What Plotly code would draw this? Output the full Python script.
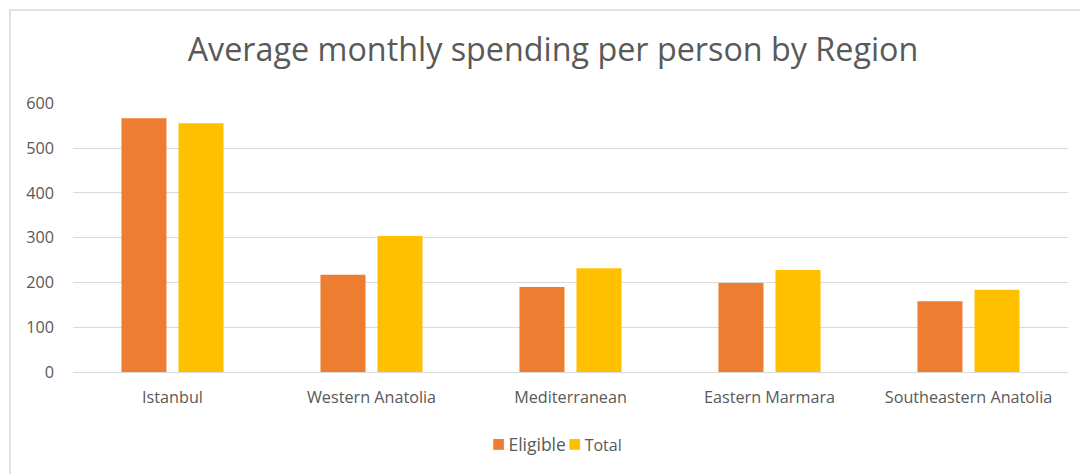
import plotly.graph_objects as go

regions = ["Istanbul", "Western Anatolia", "Mediterranean", "Eastern Marmara", "Southeastern Anatolia"]
eligible = [567, 217, 190, 199, 158]
total = [556, 304, 232, 228, 184]
y_ticks = [0, 100, 200, 300, 400, 500, 600]

# page has an 8px body margin, so the figure is drawn 8px smaller and shifted
OFF = 8
W, H = 1088 - OFF, 474 - OFF
L, R, T, B = 73 - OFF, 20, 103 - OFF, 102
pw = W - L - R
ph = H - T - B

fig = go.Figure()
fig.add_trace(go.Bar(x=regions, y=eligible, name="Eligible", marker=dict(color="#ED7D31", line=dict(width=0))))
fig.add_trace(go.Bar(x=regions, y=total, name="Total", marker=dict(color="#FFC000", line=dict(width=0))))

font = "Open Sans, Noto Sans, sans-serif"
fig.update_layout(
    width=W, height=H,
    margin=dict(l=L, r=R, t=T, b=B),
    paper_bgcolor="white", plot_bgcolor="white",
    barmode="group", bargap=0.427, bargroupgap=0.21,
    title=dict(text="Average monthly spending per person by Region", x=(553 - OFF) / W, xanchor="center",
               y=1 - (50 - OFF) / H, yanchor="middle", font=dict(family=font, size=32.3, color="#595959")),
    font=dict(family=font, color="#595959"),
    showlegend=False,
    xaxis=dict(showgrid=False, showline=True, linecolor="#d9d9d9", linewidth=1, ticks="",
               tickfont=dict(size=16.2, color="#595959"), ticklabelstandoff=11),
    yaxis=dict(range=[0, 601], tickvals=y_ticks, showgrid=True, gridcolor="#d9d9d9", gridwidth=1,
               zeroline=False, showline=False, ticks="", tickfont=dict(size=16.2, color="#595959"),
               ticklabelstandoff=18),
)

# legend as an inline text key
fig.add_annotation(
    text="<span style='color:#ED7D31;font-size:22px'>■</span><span style='font-size:12px'> </span>"
         "<span style='font-size:17.5px'>Eligible</span><span style='font-size:9px'> </span>"
         "<span style='color:#FFC000;font-size:22px'>■</span><span style='font-size:12px'> </span>Total",
    xref="paper", yref="paper", x=((557 - OFF) - L) / pw, y=(H - B - (442 - OFF)) / ph,
    xanchor="center", yanchor="middle", showarrow=False, font=dict(family=font, size=16, color="#595959"))

# chart border
fig.add_shape(type="rect", xref="paper", yref="paper",
              x0=((10 - OFF) - L) / pw, x1=(W + 20 - L) / pw,
              y0=(H - B - H - 20) / ph, y1=(H - B - (10 - OFF)) / ph,
              line=dict(color="#d9d9d9", width=1.5), fillcolor="rgba(0,0,0,0)", layer="below")

fig.write_html("out.html")
